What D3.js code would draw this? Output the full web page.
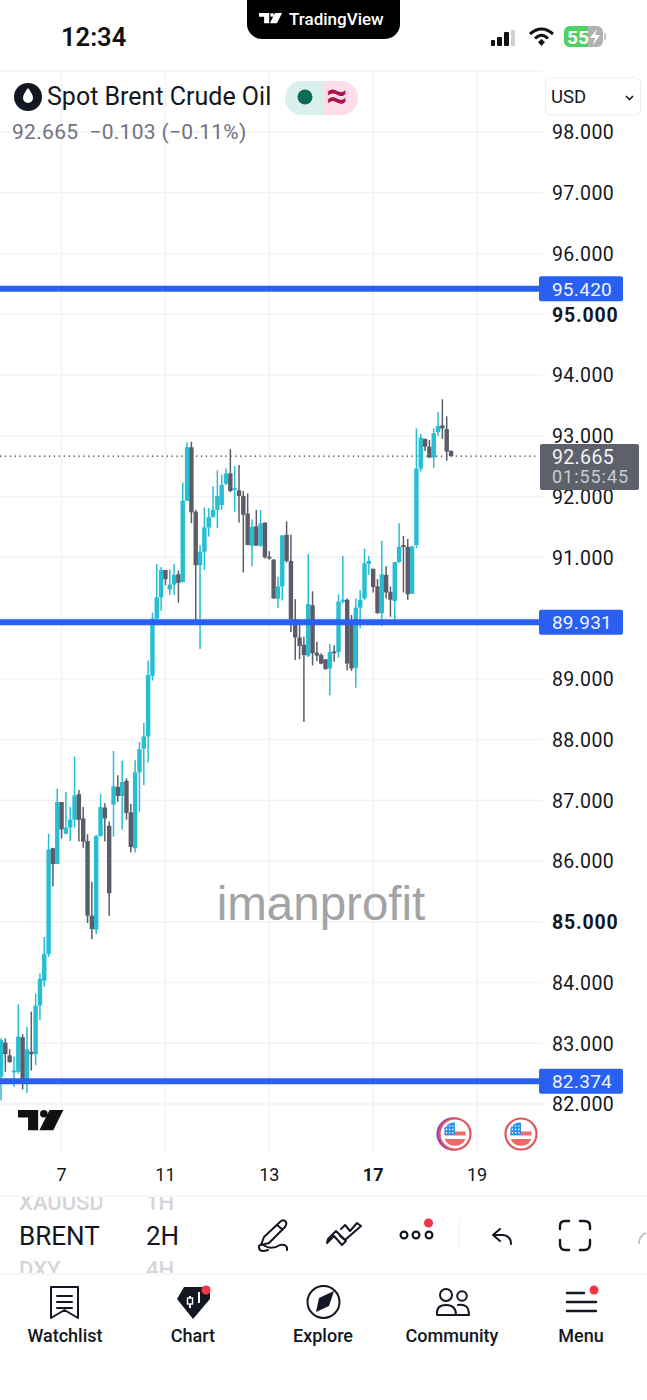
<!DOCTYPE html>
<html><head><meta charset="utf-8">
<style>
html,body{margin:0;padding:0;background:#fff}
svg{display:block}
</style>
<script src="https://cdn.jsdelivr.net/npm/d3@7/dist/d3.min.js"></script>
</head><body><svg id="c" width="647" height="1400" font-family="Roboto,'Noto Sans',sans-serif"></svg>
<script>
const opens=[82.45,83.01,82.80,82.52,82.53,83.10,82.34,82.86,82.82,83.62,84.03,84.47,86.21,85.95,86.97,86.45,86.55,86.68,87.10,86.70,86.33,85.10,84.87,86.41,86.88,86.58,86.93,87.22,87.07,87.32,86.80,86.21,87.46,87.85,88.05,
89.05,89.99,90.34,90.79,90.47,90.55,90.72,90.59,91.93,92.81,91.75,90.87,91.09,91.49,91.66,91.78,91.86,92.21,92.38,92.12,92.10,92.01,91.72,91.19,91.51,91.19,91.57,91.01,90.96,90.32,90.52,91.37,90.94,89.98,89.68,89.56,89.38,
90.21,89.43,89.39,89.32,89.17,89.45,89.44,90.28,90.30,89.96,89.18,90.17,90.32,90.89,90.81,90.52,90.08,90.71,90.43,90.28,90.92,91.20,91.17,90.40,91.20,92.46,92.95,92.82,92.64,93.06,93.17,93.11,92.75];
const highs=[83.08,83.08,82.90,82.78,83.64,83.15,83.27,83.52,83.82,84.15,84.75,86.45,86.22,87.19,86.97,87.14,86.89,87.72,87.17,86.89,86.44,85.66,86.43,87.10,86.95,86.65,87.81,87.41,87.65,87.36,86.94,87.66,87.96,88.27,89.30,
90.09,90.89,90.84,90.79,90.80,90.89,90.78,92.23,92.89,92.90,91.78,91.20,91.82,91.81,92.17,92.43,92.36,92.46,92.78,92.50,92.52,92.09,92.05,91.62,91.78,91.78,91.57,91.10,90.97,90.68,91.36,91.59,91.37,90.31,89.98,89.69,91.05,
90.44,89.61,89.42,89.32,89.57,89.55,90.39,91.02,90.32,90.05,90.32,90.46,91.14,91.02,90.81,90.64,91.27,90.85,90.52,90.92,91.56,91.35,91.30,91.18,93.12,93.03,92.95,92.93,93.12,93.39,93.60,93.32,92.76];
const lows=[82.06,82.53,82.68,82.28,82.50,82.24,82.18,82.55,82.64,83.38,83.93,84.42,85.58,85.95,86.37,86.44,86.33,86.55,86.32,86.22,84.98,84.71,84.80,86.40,86.32,85.10,86.40,86.97,86.52,86.68,86.14,86.14,86.81,87.25,87.62,
88.97,89.98,90.12,90.54,90.38,90.38,90.25,90.59,91.93,91.56,89.91,89.49,90.79,91.34,91.66,91.48,91.78,92.19,92.07,91.75,91.57,90.75,91.20,90.85,91.19,91.17,90.98,90.96,90.32,90.17,90.29,90.91,89.77,89.31,89.32,88.29,89.36,
89.22,89.29,89.24,89.15,88.73,89.28,89.35,90.24,89.14,89.13,88.85,89.83,90.30,90.71,90.42,90.07,89.87,90.32,90.02,89.97,90.91,90.42,90.30,90.39,91.15,92.41,92.75,92.64,92.47,93.00,92.95,92.59,92.66];
const closes=[83.05,82.82,82.69,82.55,83.11,82.37,82.90,82.82,83.62,84.06,84.47,86.19,85.95,86.97,86.52,86.55,86.68,87.08,86.68,86.32,85.10,84.88,86.41,86.89,86.70,85.47,87.23,87.07,87.30,86.79,86.23,87.46,87.84,88.05,89.06,
89.99,90.34,90.79,90.64,90.55,90.71,90.58,91.93,92.81,91.74,90.87,91.09,91.49,91.66,91.78,92.01,92.19,92.38,92.09,92.14,92.01,91.70,91.20,91.50,91.19,91.56,91.00,90.98,90.32,90.52,91.36,90.94,89.98,89.68,89.54,89.39,90.23,
89.42,89.38,89.25,89.16,89.44,89.44,90.27,90.30,89.25,89.17,90.17,90.30,90.90,90.94,90.51,90.08,90.72,90.42,90.30,90.92,91.17,91.17,90.39,91.18,92.46,92.97,92.82,92.64,93.04,93.16,93.12,92.74,92.665];
const gridPrices=[82,83,84,85,86,87,88,89,90,91,92,93,94,95,96,97,98];
const priceTicks=[82,83,84,85,86,87,88,89,91,92,93,94,95,96,97,98];
const boldPrices=[85,95];
const dateIndex=[14,38,62,86,110];
const dateLabels=["7","11","13","17","19"];
const boldDates=["17"];
const levels=[95.420,89.931,82.374];
const lastPrice=92.665;
const countdown="01:55:45";
const navLabels=["Watchlist","Chart","Explore","Community","Menu"];

const up="#27bdd2",down="#5c5c68",lineBlue="#2a60f2",grid="#f2f3f5";
const svg=d3.select("#c");
const y=d3.scaleLinear().domain([82,98]).range([1104,132]);
const x=d3.scaleLinear().domain([0,110]).range([1,477]);
const defs=svg.append("defs");
defs.append("clipPath").attr("id","plot").append("rect").attr("x",0).attr("y",72).attr("width",540).attr("height",1082);
defs.append("clipPath").attr("id","strip").append("rect").attr("x",0).attr("y",1197).attr("width",260).attr("height",76);

// grid
const plotRight=543;
const g=svg.append("g");
g.selectAll(".h").data(gridPrices).join("line").attr("x1",0).attr("x2",plotRight).attr("y1",d=>y(d)).attr("y2",d=>y(d)).attr("stroke",grid).attr("stroke-width",1.6);
g.selectAll(".v").data(dateIndex).join("line").attr("x1",d=>x(d)).attr("x2",d=>x(d)).attr("y1",72).attr("y2",1153).attr("stroke",grid).attr("stroke-width",1.6);
g.append("line").attr("x1",0).attr("x2",plotRight).attr("y1",71).attr("y2",71).attr("stroke",grid).attr("stroke-width",1.6);

// last price dotted
svg.append("line").attr("x1",0).attr("x2",537).attr("y1",y(lastPrice)).attr("y2",y(lastPrice)).attr("stroke","#333").attr("stroke-width",1.3).attr("stroke-dasharray","1.3 3.6");

// candles
const candles=svg.append("g").attr("clip-path","url(#plot)");
const idx=d3.range(opens.length);
const col=i=>closes[i]>=opens[i]?up:down;
candles.selectAll(".w").data(idx).join("line").attr("x1",i=>x(i)).attr("x2",i=>x(i)).attr("y1",i=>y(highs[i])).attr("y2",i=>y(lows[i])).attr("stroke",col).attr("stroke-width",1.5);
candles.selectAll(".b").data(idx).join("rect").attr("x",i=>x(i)-2.2).attr("width",4.4)
 .attr("y",i=>y(Math.max(opens[i],closes[i]))).attr("height",i=>Math.max(1.8,Math.abs(y(opens[i])-y(closes[i])))).attr("fill",col);

// levels
svg.selectAll(".lvl").data(levels).join("line").attr("x1",0).attr("x2",540).attr("y1",d=>y(d)).attr("y2",d=>y(d)).attr("stroke",lineBlue).attr("stroke-width",6);

// price axis
const yAxis=d3.axisRight(y).tickValues(priceTicks).tickFormat(d3.format(".3f")).tickSize(0).tickPadding(0);
const ya=svg.append("g").attr("transform","translate(552,0)").call(yAxis);
ya.select(".domain").remove();
ya.selectAll("text").attr("font-size",19.5).attr("fill","#131722").attr("font-family","Roboto,sans-serif").attr("dy","0.35em")
  .attr("font-weight",d=>boldPrices.includes(d)?700:400).attr("letter-spacing",d=>boldPrices.includes(d)?0.8:0.35);

// level labels
const lab=svg.selectAll(".ll").data(levels).join("g").attr("transform",d=>`translate(539,${y(d)})`);
lab.append("rect").attr("x",0).attr("y",-12.5).attr("width",84).attr("height",25).attr("rx",2).attr("fill",lineBlue);
lab.append("text").attr("x",43).attr("y",7).attr("text-anchor","middle").attr("font-size",19).attr("fill","#eef3ff").attr("letter-spacing",0.3).text(d=>d3.format(".3f")(d));

// last price label
const ly=y(lastPrice);
svg.append("rect").attr("x",540).attr("y",ly-12).attr("width",99).attr("height",46).attr("rx",2).attr("fill","#5e616b");
svg.append("text").attr("x",552).attr("y",ly+7.5).attr("font-size",19.5).attr("fill","#f4f4f6").attr("letter-spacing",0.35).text(d3.format(".3f")(lastPrice));
svg.append("text").attr("x",552).attr("y",ly+27).attr("font-size",18).attr("fill","#c9cbd1").attr("letter-spacing",0.95).text(countdown);

// time axis
const xAxis=d3.axisBottom(x).tickValues(dateIndex).tickFormat((d,i)=>dateLabels[i]).tickSize(0).tickPadding(0);
const xa=svg.append("g").attr("transform","translate(-0.5,1167)").call(xAxis);
xa.select(".domain").remove();
xa.selectAll("text").attr("font-size",18).attr("fill","#131722").attr("font-family","Roboto,sans-serif").attr("dy","0.75em")
  .attr("font-weight",(d,i)=>boldDates.includes(dateLabels[i])?700:400);

// watermark
svg.append("text").attr("x",321).attr("y",920).attr("text-anchor","middle").attr("font-size",47.5).attr("fill","#a3a3a5").attr("font-family","'Liberation Sans',sans-serif").text("imanprofit");

// TV logo function
function tvLogo(px,py,s,color,parent){
  const l=(parent||svg).append("g").attr("transform",`translate(${px},${py}) scale(${s})`).attr("fill",color);
  l.append("path").attr("d","M0 0H16V16H8V6H0Z");
  l.append("circle").attr("cx",20.5).attr("cy",3).attr("r",3);
  l.append("path").attr("d","M25 0H36L28 16H17Z");
}
tvLogo(18,1110,1.26,"#111");

// flags
function flag(cx,cy,r,ring){
  const f=svg.append("g").attr("transform",`translate(${cx},${cy})`);
  if(ring) f.append("circle").attr("cx",-1.8).attr("r",r).attr("fill","none").attr("stroke",ring).attr("stroke-width",2.5);
  f.append("circle").attr("r",r).attr("fill","#fff").attr("stroke","#e0555c").attr("stroke-width",2.2);
  f.append("rect").attr("x",-r+5).attr("y",-2.5).attr("width",2*r-10).attr("height",4).attr("fill","#ee6a6a");
  f.append("path").attr("d",`M${-r+5} 5 H${r-5} A${r-4} ${r-4} 0 0 1 ${-r+5} 5Z`).attr("fill","#ee6a6a");
  f.append("path").attr("d",`M${-r+5} 1 V-6 A${r-4} ${r-4} 0 0 1 0 ${-r+4} V1 Z`).attr("fill","#2f8fe8");
  d3.range(3).forEach(a=>d3.range(3).forEach(b=>f.append("circle").attr("cx",-r+7+b*3.2).attr("cy",-8+a*3.4).attr("r",0.8).attr("fill","#fff")));
}
flag(455,1134,15.5,"#8f3fc4");
flag(521,1134,15.5);

// status bar
svg.append("text").attr("x",61).attr("y",46).attr("font-size",25.5).attr("font-weight",600).attr("fill","#111").attr("font-family","Roboto,sans-serif").text("12:34");
svg.append("path").attr("d","M247 0H400V24A15 15 0 0 1 385 39H262A15 15 0 0 1 247 24Z").attr("fill","#000");
tvLogo(259,13,0.64,"#fff");
svg.append("text").attr("x",289).attr("y",25).attr("font-size",17).attr("font-weight",500).attr("fill","#fff").text("TradingView");
[[491,40,4,6],[497,37,5,9],[504,32,5,14]].forEach(b=>svg.append("rect").attr("x",b[0]).attr("y",b[1]).attr("width",b[2]).attr("height",b[3]).attr("rx",1).attr("fill","#111"));
svg.append("rect").attr("x",511).attr("y",30).attr("width",4).attr("height",16).attr("rx",1).attr("fill","#cfcfcf");
const wifi=svg.append("g").attr("fill","none").attr("stroke","#111").attr("stroke-linecap","butt");
wifi.append("path").attr("d","M530 34Q541.5 24 553 34").attr("stroke-width",3);
wifi.append("path").attr("d","M535 38.5Q541.5 32 548 38.5").attr("stroke-width",3);
svg.append("path").attr("d","M538 42L541.5 39L545 42L541.5 46Z").attr("fill","#111");
svg.append("rect").attr("x",564).attr("y",26).attr("width",39).attr("height",21).attr("rx",6).attr("fill","#b1b1b1");
svg.append("path").attr("d","M570 26H588V47H570A6 6 0 0 1 564 41V32A6 6 0 0 1 570 26Z").attr("fill","#4cd265");
svg.append("text").attr("x",567).attr("y",44).attr("font-size",19).attr("font-weight",700).attr("fill","#fff").text("55");
svg.append("path").attr("d","M597 29L590 38H595L593 45L600 35H595Z").attr("fill","#fff");
svg.append("rect").attr("x",604).attr("y",33).attr("width",2).attr("height",7).attr("rx",1).attr("fill","#c5c5c5");

// legend
svg.append("circle").attr("cx",28).attr("cy",97).attr("r",14).attr("fill","#131722");
svg.append("path").attr("d","M28 88C25 92 23 95 23 98A5 5 0 0 0 33 98C33 95 31 92 28 88Z").attr("fill","#fff");
svg.append("text").attr("x",47).attr("y",105).attr("font-size",25).attr("fill","#131722").text("Spot Brent Crude Oil");
svg.append("path").attr("d","M302 81A17 17 0 0 0 302 115H323V81Z").attr("fill","#d9f0ec");
svg.append("path").attr("d","M323 81H341A17 17 0 0 1 341 115H323Z").attr("fill","#fcdde8");
svg.append("circle").attr("cx",305).attr("cy",97).attr("r",7.5).attr("fill","#0a6b57");
svg.append("text").attr("x",337).attr("y",108).attr("text-anchor","middle").attr("font-size",37).attr("font-weight",700).attr("fill","#a8124f").text("≈");
svg.append("text").attr("x",12).attr("y",139).attr("font-size",21).attr("fill","#6f7280").attr("letter-spacing",0.3).attr("xml:space","preserve").text("92.665  −0.103 (−0.11%)");

// currency
svg.append("rect").attr("x",545.5).attr("y",78).attr("width",95).attr("height",37).attr("rx",5).attr("fill","#fff").attr("stroke","#eceef0").attr("stroke-width",1.2);
svg.append("text").attr("x",551).attr("y",103).attr("font-size",18.5).attr("fill","#131722").text("USD");
svg.append("path").attr("d","M626 96L629.5 99.5L633 96").attr("fill","none").attr("stroke","#131722").attr("stroke-width",1.6);

// separators
[[1196],[1274]].forEach(v=>svg.append("line").attr("x1",0).attr("x2",647).attr("y1",v[0]).attr("y2",v[0]).attr("stroke","#f0f1f3").attr("stroke-width",1.2));
svg.append("line").attr("x1",459).attr("x2",459).attr("y1",1220).attr("y2",1248).attr("stroke","#f0f1f3");

// toolbar text
const strip=svg.append("g").attr("clip-path","url(#strip)");
[["XAUUSD",19,1210,"#d4d5d8"],["1H",146,1210,"#d4d5d8"],["DXY",19,1277,"#d4d5d8"],["4H",146,1277,"#d4d5d8"]].forEach(t=>
 strip.append("text").attr("x",t[1]).attr("y",t[2]).attr("font-size",22).attr("font-weight",500).attr("fill",t[3]).text(t[0]));
svg.append("rect").attr("x",102).attr("y",1197).attr("width",20).attr("height",16).attr("fill","#fff").attr("opacity",0.85);
svg.append("text").attr("x",19).attr("y",1245).attr("font-size",26).attr("fill","#131722").text("BRENT");
svg.append("text").attr("x",146).attr("y",1245).attr("font-size",26).attr("fill","#131722").text("2H");

const ic=svg.append("g").attr("fill","none").attr("stroke","#131722").attr("stroke-width",2).attr("stroke-linecap","round").attr("stroke-linejoin","round");
// brush
ic.append("path").attr("d","M264 1237L281 1221Q284 1219 286 1222Q287 1224 285 1227L269 1243L261 1245Z M277 1225L282 1229");
ic.append("path").attr("d","M268 1250Q258 1253 259 1246Q261 1243 265 1246Q272 1250 280 1245Q288 1244 287 1250");
// trend
ic.append("path").attr("d","M327 1243L334 1236L342 1245L346 1241L336 1231L328 1239Z").attr("stroke-width",2);
ic.append("path").attr("d","M340 1236L345 1240L361 1226L357 1223L350 1231L345 1225L341 1229").attr("stroke-width",2);
// dots
[404,416,429].forEach(c=>ic.append("circle").attr("cx",c).attr("cy",1235).attr("r",3.4).attr("stroke-width",2.2));
svg.append("circle").attr("cx",428.5).attr("cy",1223).attr("r",4.5).attr("fill","#f23645");
// undo
ic.append("path").attr("d","M500 1229L493 1235L500 1241 M493 1235H503Q511 1236 511 1244");
// full screen
ic.append("path").attr("d","M560 1229V1226Q560 1221 565 1221H569 M580 1221H584Q590 1221 590 1226V1229 M590 1240V1244Q590 1250 584 1250H580 M569 1250H565Q560 1250 560 1244V1240").attr("stroke-width",2.4);
svg.append("path").attr("d","M639 1244Q639 1236 646 1233").attr("fill","none").attr("stroke","#bbb").attr("stroke-width",1.8);

// nav
const navX=[65,193,323,452,581];
svg.selectAll(".nav").data(navLabels).join("text").attr("x",(d,i)=>navX[i]).attr("y",1342).attr("text-anchor","middle").attr("font-size",18).attr("font-weight",500).attr("fill","#131722").text(d=>d);
// watchlist icon
ic.append("path").attr("d","M51 1287H78V1318L64.5 1310L51 1318Z M57 1296H72 M57 1302H72 M57 1308H72");
// chart icon
svg.append("path").attr("d","M184 1287H210V1299L193 1319L177 1299Z").attr("fill","#131722");
svg.append("path").attr("d","M190 1296V1308 M199 1292V1303").attr("stroke","#fff").attr("stroke-width",2);
svg.append("rect").attr("x",187.5).attr("y",1298).attr("width",5).attr("height",6).attr("fill","#131722").attr("stroke","#fff").attr("stroke-width",1.4);
svg.append("circle").attr("cx",206).attr("cy",1290).attr("r",4.5).attr("fill","#f23645");
// compass
ic.append("circle").attr("cx",323.5).attr("cy",1302).attr("r",16);
svg.append("path").attr("d","M334 1291L329 1306L316 1312L319 1298Z").attr("fill","#131722");
// community
ic.append("circle").attr("cx",446).attr("cy",1295).attr("r",6);
ic.append("circle").attr("cx",462).attr("cy",1296).attr("r",4.8);
ic.append("path").attr("d","M437 1315Q436 1305 446 1305Q456 1305 456 1315Z");
ic.append("path").attr("d","M458 1305Q469 1303 469 1315H456");
// menu
ic.append("path").attr("d","M567 1293H584 M567 1302H596 M567 1311H596").attr("stroke-width",2.4);
svg.append("circle").attr("cx",594).attr("cy",1290).attr("r",4.5).attr("fill","#f23645");
</script></body></html>
